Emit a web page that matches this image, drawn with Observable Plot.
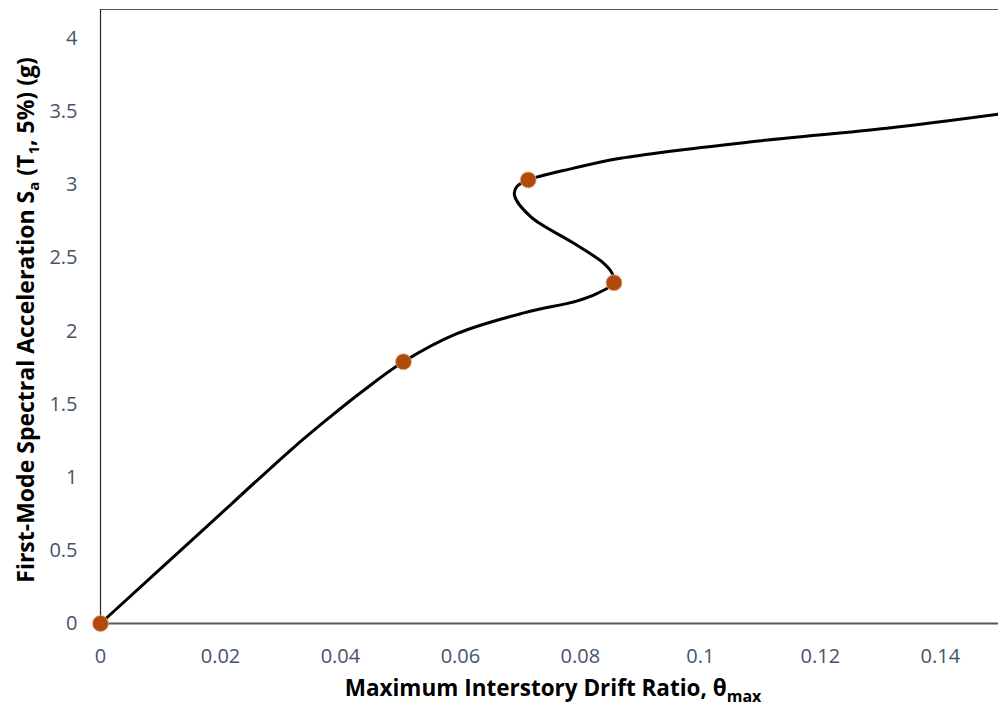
<!DOCTYPE html>
<html>
<head>
<meta charset="utf-8">
<script src="https://cdn.jsdelivr.net/npm/d3@7"></script>
<script src="https://cdn.jsdelivr.net/npm/@observablehq/plot@0.6"></script>
<style>
  html, body { margin: 0; padding: 0; background: #fff; }
  #chart svg { display: block; }
</style>
</head>
<body>
<div id="chart"></div>
<script>
// Incremental dynamic analysis curve: traced drift / intensity pairs
const curveDrift = [0, 0.0167, 0.0320, 0.0383, 0.0433, 0.0505, 0.0595, 0.0706, 0.0795, 0.0828, 0.0856,
                    0.0853, 0.0839, 0.0789, 0.0717, 0.0690, 0.0694, 0.0713, 0.0789, 0.0867,
                    0.1089, 0.1311, 0.1497];
const curveSa    = [0, 0.625, 1.197, 1.414, 1.577, 1.790, 1.984, 2.125, 2.207, 2.258, 2.331,
                    2.395, 2.464, 2.601, 2.783, 2.932, 2.988, 3.034, 3.115, 3.183,
                    3.297, 3.388, 3.484];

// Highlighted analysis points
const pointDrift = [0, 0.0505, 0.0856, 0.0713];
const pointSa    = [0, 1.790, 2.331, 3.034];

// Axis ticks
const xTicks = [0, 0.02, 0.04, 0.06, 0.08, 0.1, 0.12, 0.14];
const yTicks = [0, 0.5, 1, 1.5, 2, 2.5, 3, 3.5, 4];

const curve = curveDrift.map((x, i) => ({x, y: curveSa[i]}));
const points = pointDrift.map((x, i) => ({x, y: pointSa[i]}));

const tickColor = "#44546a";
const font = "'Open Sans', Lato, sans-serif";

const svg = Plot.plot({
  width: 998,
  height: 711,
  marginLeft: 100,
  marginRight: 0,
  marginTop: 9,
  marginBottom: 88,
  style: {fontFamily: font, fontSize: "20px", background: "#fff", overflow: "visible"},
  x: {domain: [0, 0.1497], ticks: xTicks, tickFormat: d => String(d), label: null},
  y: {domain: [0, 4.2], ticks: yTicks, tickFormat: d => String(d), label: null},
  marks: [
    Plot.axisX({ticks: xTicks, tickFormat: d => String(d), tickSize: 0, tickPadding: 25, fill: tickColor, fontSize: 20, label: null}),
    Plot.axisY({ticks: yTicks, tickFormat: d => String(d), tickSize: 0, tickPadding: 23, fill: tickColor, fontSize: 20, label: null}),
    // plot-area frame: top edge, left axis, bottom axis
    Plot.ruleY([4.2], {stroke: "#595959", strokeWidth: 1.2}),
    Plot.ruleX([0], {stroke: "#262626", strokeWidth: 1.2}),
    Plot.ruleY([0], {stroke: "#595959", strokeWidth: 2}),
    Plot.line(curve, {x: "x", y: "y", curve: "catmull-rom", stroke: "#000", strokeWidth: 3}),
    Plot.dot(points, {x: "x", y: "y", r: 8, fill: "#b14b0c", stroke: "#e6b48e", strokeWidth: 0.8})
  ]
});

const s = d3.select(svg);

// x-axis title with subscript
const xt = s.append("text")
  .attr("x", 553).attr("y", 696)
  .attr("text-anchor", "middle")
  .attr("font-family", font).attr("font-weight", "bold").attr("font-size", 22.5)
  .attr("fill", "#000");
xt.append("tspan").text("Maximum Interstory Drift Ratio, θ");
xt.append("tspan").attr("dy", 6).attr("font-size", 16).text("max");

// y-axis title with subscripts
const yt = s.append("text")
  .attr("transform", "translate(34,320) rotate(-90)")
  .attr("text-anchor", "middle")
  .attr("font-family", font).attr("font-weight", "bold").attr("font-size", 23)
  .attr("fill", "#000");
yt.append("tspan").text("First-Mode Spectral Acceleration S");
yt.append("tspan").attr("dy", 5).attr("font-size", 15).text("a");
yt.append("tspan").attr("dy", -5).text(" (T");
yt.append("tspan").attr("dy", 5).attr("font-size", 15).text("1");
yt.append("tspan").attr("dy", -5).text(", 5%) (g)");

document.getElementById("chart").appendChild(svg);
</script>
</body>
</html>
